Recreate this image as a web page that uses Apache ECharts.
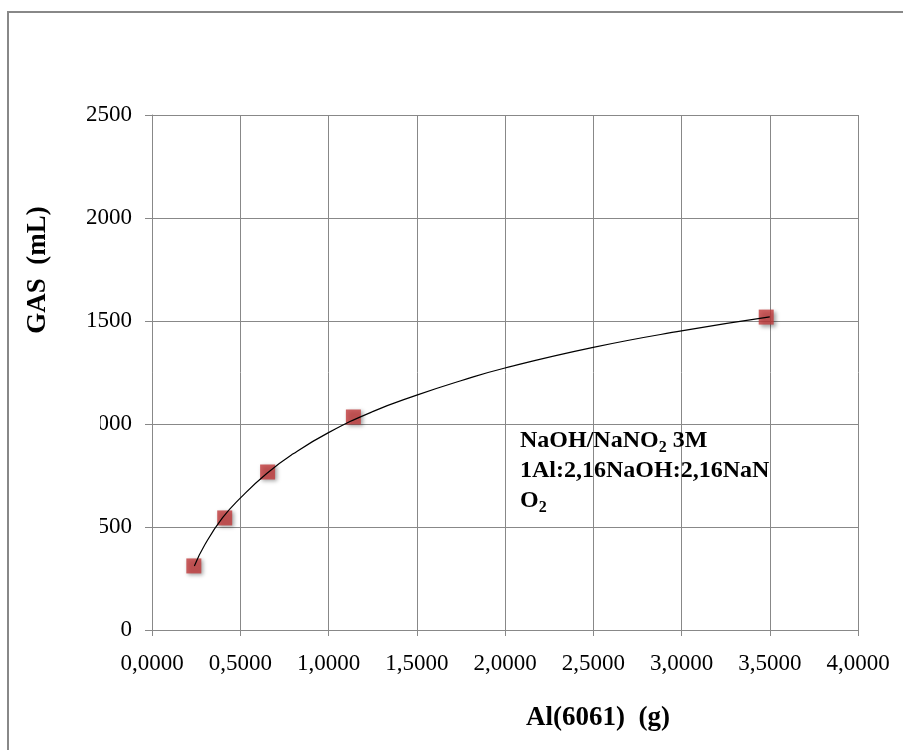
<!DOCTYPE html>
<html><head><meta charset="utf-8">
<script src="https://cdn.jsdelivr.net/npm/echarts@6/dist/echarts.min.js"></script>
<style>html,body{margin:0;padding:0;background:#fff}#c{width:903px;height:750px}</style>
</head><body><div id="c"></div>
<script>
// measured points: Al(6061) mass (g) vs gas volume (mL)
const massG = [0.237, 0.412, 0.655, 1.141, 3.48];
const gasML = [311, 544, 767, 1034, 1519];
// trendline
const trendX = [0.24, 0.3, 0.4, 0.5, 0.65, 0.8, 1.0, 1.25, 1.5, 1.75, 2.0, 2.5, 3.0, 3.5];
const trendY = [311, 415, 545, 640, 760, 855, 958, 1060, 1140, 1210, 1272, 1372, 1452, 1520];
const xTickLabels = ['0,0000','0,5000','1,0000','1,5000','2,0000','2,5000','3,0000','3,5000','4,0000'];
const yTickLabels = ['0','500','1000','1500','2000','2500'];
const xTitle = 'Al(6061)  (g)';
const yTitle = 'GAS  (mL)';

const serif = '"Liberation Serif","DejaVu Serif",serif';
const chart = echarts.init(document.getElementById('c'));
chart.setOption({
  animation: false,
  backgroundColor: '#fff',
  grid: {left: 152, right: 45, top: 115, bottom: 120, containLabel: false},
  xAxis: {
    type: 'value', min: 0, max: 4, interval: 0.5,
    axisLine: {show: true, lineStyle: {color: '#888', width: 1}},
    axisTick: {show: true, length: 6, lineStyle: {color: '#888'}},
    splitLine: {show: true, lineStyle: {color: '#888', width: 1}},
    axisLabel: {fontFamily: serif, fontSize: 23, color: '#000', margin: 22,
      formatter: v => xTickLabels[Math.round(v / 0.5)]}
  },
  yAxis: {
    type: 'value', min: 0, max: 2500, interval: 500,
    axisLine: {show: true, lineStyle: {color: '#888', width: 1}},
    axisTick: {show: true, length: 7, lineStyle: {color: '#888'}},
    splitLine: {show: true, lineStyle: {color: '#888', width: 1}},
    axisLabel: {fontFamily: serif, fontSize: 23, color: '#000', margin: 20,
      formatter: v => yTickLabels[Math.round(v / 500)]}
  },
  series: [
    {
      type: 'line', data: trendX.map((x, i) => [x, trendY[i]]),
      smooth: true, showSymbol: false, symbol: 'none',
      lineStyle: {color: '#000', width: 1.2}, z: 3
    },
    {
      type: 'scatter', data: massG.map((x, i) => [x, gasML[i]]),
      symbol: 'rect', symbolSize: 15,
      itemStyle: {color: '#C0393B', shadowBlur: 4, shadowColor: 'rgba(0,0,0,0.45)', shadowOffsetX: 2, shadowOffsetY: 2},
      z: 2
    }
  ],
  graphic: [
    {type: 'rect', shape: {x: 8, y: 12, width: 1000, height: 900}, style: {fill: 'none', stroke: '#888', lineWidth: 2}, silent: true, z: -1},
    {type: 'rect', shape: {x: 60, y: 405, width: 40, height: 140}, style: {fill: '#fff'}, silent: true, z: 100},
    {type: 'text', x: 598, y: 718, z: 100,
      style: {text: xTitle, fontFamily: serif, fontSize: 27, fontWeight: 'bold', fill: '#000', align: 'center', verticalAlign: 'middle'}},
    {type: 'text', x: 38, y: 270, rotation: Math.PI / 2, z: 100,
      style: {text: yTitle, fontFamily: serif, fontSize: 27, fontWeight: 'bold', fill: '#000', align: 'center', verticalAlign: 'middle'}},
    {type: 'text', left: 520, top: 428, z: 100,
      style: {
        text: '{b|NaOH/NaNO}{s|2}{b| 3M}\n{b|1Al:2,16NaOH:2,16NaN}\n{b|O}{s|2}',
        rich: {
          b: {fontFamily: serif, fontSize: 24, fontWeight: 'bold', fill: '#000', lineHeight: 30},
          s: {fontFamily: serif, fontSize: 16, fontWeight: 'bold', fill: '#000', lineHeight: 30, verticalAlign: 'bottom', padding: [12, 0, 0, 0]}
        }
      }
    }
  ]
});
</script></body></html>
